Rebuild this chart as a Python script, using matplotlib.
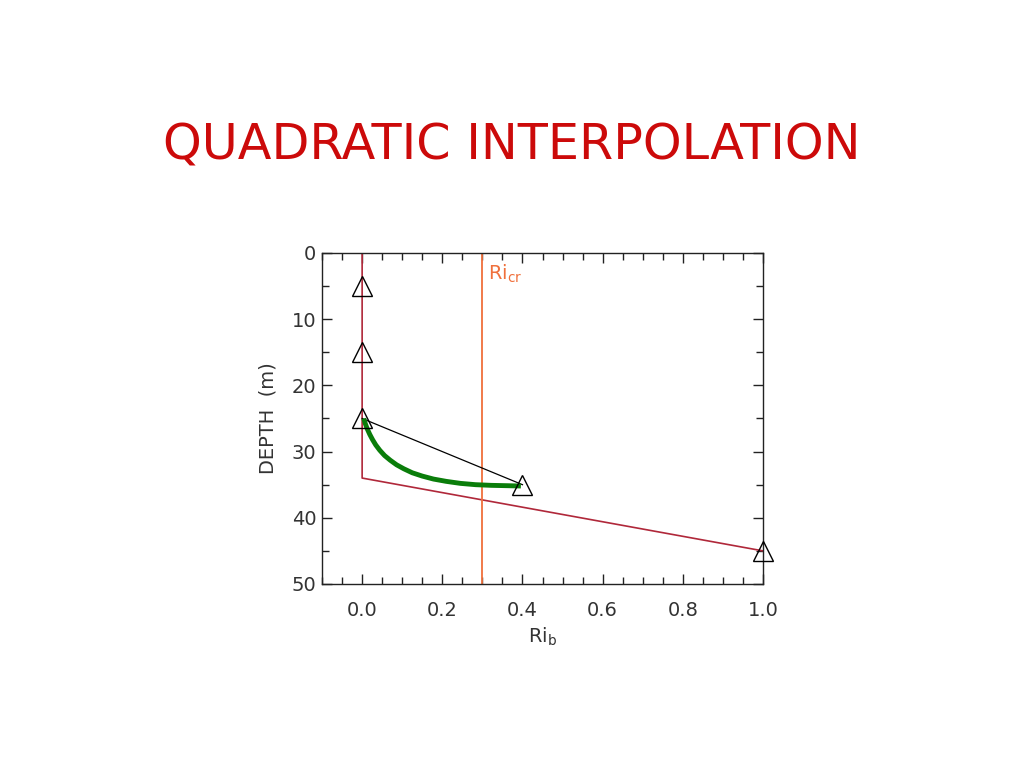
import matplotlib
matplotlib.use("Agg")
import matplotlib.pyplot as plt
from matplotlib.ticker import MultipleLocator, FormatStrFormatter

# Data
profile_ri = [0.0, 0.0, 1.0]
profile_depth = [0.0, 34.0, 45.0]
tri_ri = [0.0, 0.0, 0.0, 0.4, 1.0]
tri_depth = [5.0, 15.0, 25.0, 35.0, 45.0]
linear_ri = [0.0, 0.4]
linear_depth = [25.0, 35.0]
quad_ri = [0.004, 0.008, 0.013, 0.019, 0.026, 0.034, 0.044, 0.056, 0.070,
           0.086, 0.104, 0.125, 0.150, 0.178, 0.210, 0.245, 0.283, 0.322,
           0.360, 0.396]
quad_depth = [25.0, 25.8, 26.6, 27.4, 28.2, 29.0, 29.8, 30.6, 31.3,
              32.0, 32.6, 33.2, 33.7, 34.15, 34.5, 34.8, 35.0, 35.1,
              35.15, 35.2]
ri_cr = 0.3

fig = plt.figure(figsize=(10.24, 7.68), dpi=100)
fig.text(0.5, 0.81, "QUADRATIC INTERPOLATION", ha="center", va="center",
         color="#cc0a0a", fontsize=35.5, family="DejaVu Sans")

ax = fig.add_axes([0.3145, 0.2396, 0.4306, 0.431])
ax.plot(profile_ri, profile_depth, color="#b0283a", lw=1.2)
ax.axvline(ri_cr, color="#f0703c", lw=1.3)
ax.plot(linear_ri, linear_depth, color="black", lw=0.9)
ax.plot(quad_ri, quad_depth, color="#0a7d0a", lw=3.5,
        solid_capstyle="butt", solid_joinstyle="round")
ax.plot(tri_ri, tri_depth, linestyle="none", marker="^", markersize=14,
        markerfacecolor="none", markeredgecolor="black", markeredgewidth=1.0,
        clip_on=False, zorder=5)

ax.text(ri_cr + 0.015, 4.0, r"Ri$_{\mathregular{cr}}$", color="#f0703c", fontsize=14)

ax.set_xlim(-0.1, 1.0)
ax.set_ylim(50, 0)
ax.xaxis.set_major_locator(MultipleLocator(0.2))
ax.xaxis.set_minor_locator(MultipleLocator(0.05))
ax.yaxis.set_major_locator(MultipleLocator(10))
ax.yaxis.set_minor_locator(MultipleLocator(5))
ax.xaxis.set_major_formatter(FormatStrFormatter("%.1f"))
ax.tick_params(which="both", direction="in", top=True, right=True,
               labelsize=14, labelcolor="#333333", color="#222222")
ax.tick_params(which="major", length=7, width=1)
ax.tick_params(which="minor", length=5, width=1)
ax.tick_params(axis="x", which="both", pad=12)
ax.tick_params(axis="y", which="both", pad=4)
for s in ax.spines.values():
    s.set_color("#222222")
    s.set_linewidth(1.0)

ax.set_xlabel(r"Ri$_{\mathregular{b}}$", fontsize=14, color="#333333", labelpad=4)
ax.set_ylabel("DEPTH  (m)", fontsize=14, color="#333333", labelpad=10)

fig.savefig("out.png", dpi=100)
